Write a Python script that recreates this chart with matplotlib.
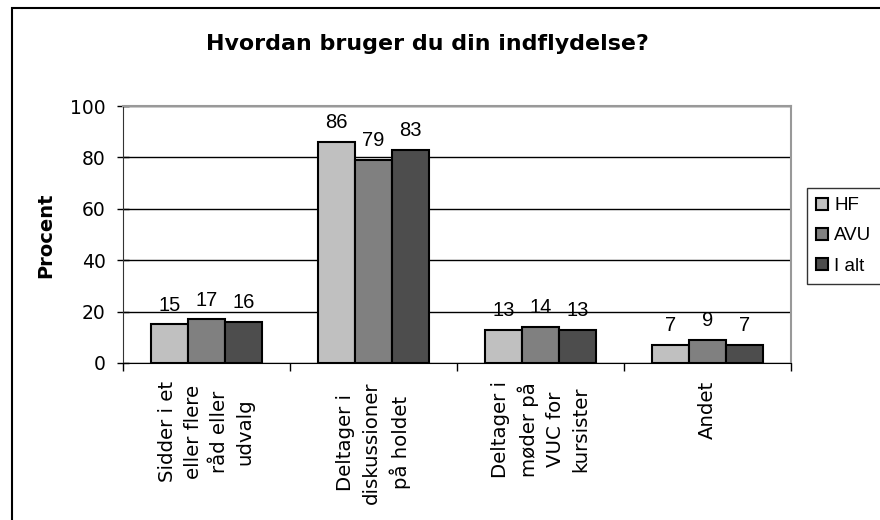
import numpy as np
import matplotlib.pyplot as plt
from matplotlib.patches import Rectangle

# data
categories = ["Sidder i et\neller flere\nråd eller\nudvalg",
              "Deltager i\ndiskussioner\npå holdet",
              "Deltager i\nmøder på\nVUC for\nkursister",
              "Andet"]
series_names = ["HF", "AVU", "I alt"]
hf = [15, 86, 13, 7]
avu = [17, 79, 14, 9]
i_alt = [16, 83, 13, 7]
colors = ["#c0c0c0", "#808080", "#4d4d4d"]
yticks = [0, 20, 40, 60, 80, 100]

W, H = 880, 520
fig = plt.figure(figsize=(W / 100, H / 100), dpi=100)

# outer chart frame (only left/top visible)
fig.patches.append(Rectangle((12 / W, -0.1), 1.2, 1 - 8 / H + 0.1,
                             transform=fig.transFigure, fill=False,
                             edgecolor="black", linewidth=1.5))

ax = fig.add_axes([123 / W, 1 - 363 / H, (791 - 123) / W, (363 - 106) / H])

x = np.arange(len(categories))
w = 0.222
for k, (vals, name, col) in enumerate(zip([hf, avu, i_alt], series_names, colors)):
    bars = ax.bar(x + (k - 1) * w, vals, width=w, color=col, edgecolor="black",
                  linewidth=1.5, label=name, zorder=3)
    for b, v in zip(bars, vals):
        ax.annotate(str(v), (b.get_x() + b.get_width() / 2, v), xytext=(0, 7),
                    textcoords="offset points", ha="center", va="bottom",
                    fontsize=14.5, family="Liberation Sans")

ax.set_xlim(-0.5, len(categories) - 0.5)
ax.set_ylim(0, 100)
ax.set_yticks(yticks)
ax.set_yticklabels([str(t) for t in yticks], fontsize=13.5, family="DejaVu Sans")
ax.yaxis.grid(True, color="black", linewidth=1, zorder=0)

# category boundaries as major ticks, labels on minor ticks
ax.set_xticks(np.arange(len(categories) + 1) - 0.5)
ax.set_xticklabels([])
ax.set_xticks(x, minor=True)
ax.set_xticklabels(categories, minor=True, rotation=90, ha="center", va="top",
                   multialignment="center", fontsize=14.2, family="DejaVu Sans",
                   linespacing=1.45)
ax.tick_params(axis="x", which="major", direction="out", length=6, width=1)
ax.tick_params(axis="x", which="minor", length=0, pad=13)
ax.tick_params(axis="y", direction="inout", length=9, width=1, pad=8)

ax.spines["top"].set_color("#999999")
ax.spines["right"].set_color("#999999")
ax.spines["top"].set_linewidth(1.5)
ax.spines["right"].set_linewidth(1.5)
ax.spines["left"].set_color("#333333")
ax.spines["bottom"].set_color("black")

fig.text(46 / W, 1 - 235 / H, "Procent", rotation=90, ha="center", va="center",
         fontsize=14, fontweight="bold", family="DejaVu Sans")
fig.text(427 / W, 1 - 44 / H, "Hvordan bruger du din indflydelse?", ha="center",
         va="center", fontsize=15.9, fontweight="bold", family="DejaVu Sans")

leg = fig.legend(loc="upper left", bbox_to_anchor=(807 / W, 1 - 188 / H),
                 frameon=True, fancybox=False, edgecolor="black",
                 prop={"family": "Liberation Sans", "size": 13.5},
                 handlelength=0.6, handleheight=0.6, handletextpad=0.35,
                 labelspacing=0.7, borderpad=0.5, borderaxespad=0)
leg.get_frame().set_linewidth(1)

fig.savefig("out.png", dpi=100)
